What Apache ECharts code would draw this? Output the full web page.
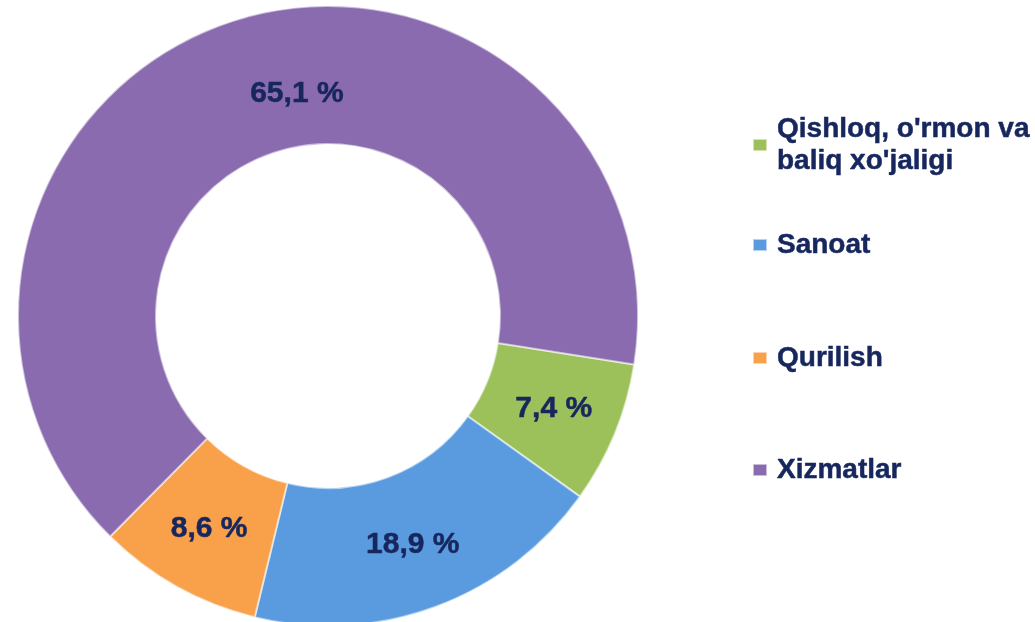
<!DOCTYPE html>
<html>
<head>
<meta charset="utf-8">
<script src="https://cdn.jsdelivr.net/npm/echarts@6/dist/echarts.min.js"></script>
<style>
  html, body { margin: 0; padding: 0; background: #fff; }
  #chart { width: 1035px; height: 622px; }
</style>
</head>
<body>
<div id="chart"></div>
<script>
const categories = ["Qishloq, o'rmon va\nbaliq xo'jaligi", 'Sanoat', 'Qurilish', 'Xizmatlar'];
const values = [7.4, 18.9, 8.6, 65.1];
const colors = ['#9DC15A', '#5A9BE0', '#F9A04A', '#8A6BB0'];
const legendTops = [113, 229, 342, 454];

const textColor = '#17275E';

const data = values.map((v, i) => ({
    name: categories[i],
    value: v,
    itemStyle: {color: colors[i]},
}));

// one legend per item so the vertical spacing can follow the picture
const legends = categories.map((name, i) => ({
    orient: 'vertical',
    left: 752,
    top: legendTops[i],
    padding: 0,
    itemWidth: 14,
    itemHeight: 12,
    icon: 'rect',
    selectedMode: false,
    data: [name],
    textStyle: {
        fontFamily: 'Liberation Sans, Arial, sans-serif',
        fontWeight: 'bold',
        fontSize: 28,
        lineHeight: 32,
        color: textColor,
        textBorderColor: textColor,
        textBorderWidth: 0.5,
        padding: [0, 0, 0, 5],
    },
}));

option = {
    backgroundColor: '#fff',
    animation: false,
    legend: legends,
    series: [
        {
            type: 'pie',
            center: [328, 316],
            radius: [172, 310],
            startAngle: -9,
            clockwise: true,
            data,
            itemStyle: {
                borderColor: 'rgba(255,255,255,0.55)',
                borderWidth: 2,
            },
            label: {
                show: true,
                position: 'inside',
                formatter: p => p.value.toFixed(1).replace('.', ',') + ' %',
                fontFamily: 'Liberation Sans, Arial, sans-serif',
                fontWeight: 'bold',
                fontSize: 30,
                color: textColor,
                textBorderColor: textColor,
                textBorderWidth: 0.5,
            },
            // the big slice's label sits a bit right of its mid angle in the picture
            labelLayout: p => p.dataIndex === 3 ? {dx: 45, dy: 10} : {},
            labelLine: {show: false},
            emphasis: {disabled: true},
        }
    ]
};

dom = document.getElementById('chart');
chart = echarts.init(dom);
chart.setOption(option);
</script>
</body>
</html>
